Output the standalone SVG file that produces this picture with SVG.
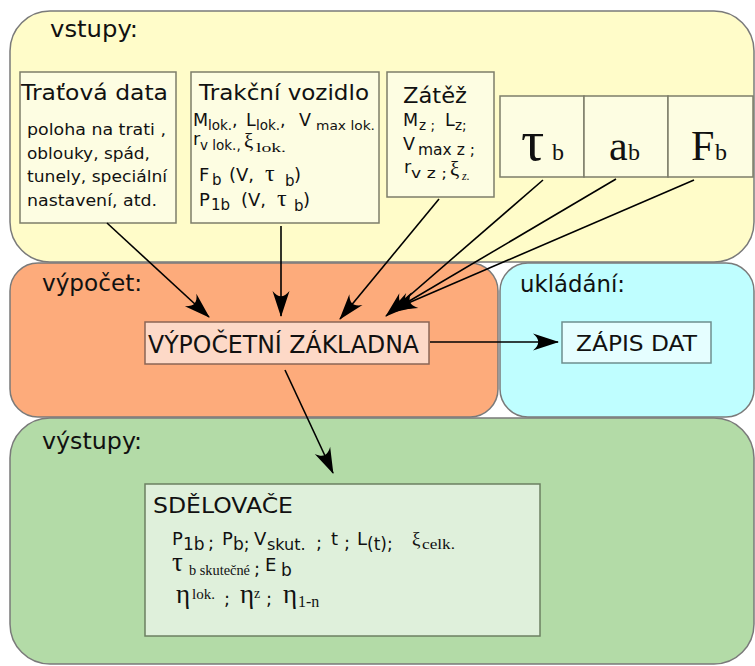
<svg xmlns="http://www.w3.org/2000/svg" width="755" height="666" viewBox="0 0 755 666">
<style>
.region{stroke:#7a7a7a;stroke-width:1.5}
.box{stroke-width:1.5}
.sans{font-family:"DejaVu Sans",Verdana,sans-serif;fill:#111}
.cond{font-family:"DejaVu Sans Condensed","DejaVu Sans",sans-serif;font-stretch:condensed;fill:#111}
.serif{font-family:"Liberation Serif","Times New Roman",serif;fill:#111}
.conn{stroke:#000;stroke-width:1.6;fill:none;marker-end:url(#ah)}
</style>
<defs>
<marker id="ah" viewBox="-28 -10 30 20" refX="0" refY="0" markerWidth="30" markerHeight="20" orient="auto" markerUnits="userSpaceOnUse">
<path d="M1,0 L-25,-8.5 C-18,-2.5 -18,2.5 -25,8.5 Z" fill="#000"/>
</marker>
</defs>
<rect width="755" height="666" fill="#fff"/>

<g id="vstupy">
<rect class="region" x="10" y="11" width="744" height="251" rx="40" ry="40" fill="#fffcc9"/>
<text class="cond" x="50" y="37" font-size="23" textLength="88" lengthAdjust="spacingAndGlyphs">vstupy:</text>
</g>
<g id="vypocet">
<rect class="region" x="10" y="263" width="488" height="154" rx="28" ry="28" fill="#fdab7b"/>
<text class="cond" x="42" y="291" font-size="23" textLength="100" lengthAdjust="spacingAndGlyphs">výpočet:</text>
</g>
<g id="ukladani">
<rect class="region" x="500" y="263" width="254" height="154" rx="28" ry="28" fill="#bffeff"/>
<text class="cond" x="520" y="292" font-size="23" textLength="105" lengthAdjust="spacingAndGlyphs">ukládání:</text>
</g>
<g id="vystupy">
<rect class="region" x="10" y="418" width="744" height="246" rx="40" ry="40" fill="#b3dba7"/>
<text class="cond" x="42" y="449" font-size="23" textLength="100" lengthAdjust="spacingAndGlyphs">výstupy:</text>
</g>

<g id="tratova-data">
<rect class="box" x="20" y="72" width="156" height="151" fill="#fdfde2" stroke="#7d7d6a"/>
<text class="sans" x="21" y="100" font-size="21" textLength="147" lengthAdjust="spacingAndGlyphs">Traťová data</text>
<text class="sans" x="27" y="135" font-size="16.5" textLength="139" lengthAdjust="spacingAndGlyphs">poloha na trati ,</text>
<text class="sans" x="27" y="158.5" font-size="16.5" textLength="123" lengthAdjust="spacingAndGlyphs">oblouky, spád,</text>
<text class="sans" x="27" y="182" font-size="16.5" textLength="140" lengthAdjust="spacingAndGlyphs">tunely, speciální</text>
<text class="sans" x="27" y="205.5" font-size="16.5" textLength="130" lengthAdjust="spacingAndGlyphs">nastavení, atd.</text>
</g>

<g id="trakcni-vozidlo">
<rect class="box" x="191" y="72" width="188" height="151" fill="#fdfde2" stroke="#7d7d6a"/>
<text class="sans" x="199" y="100" font-size="21" textLength="170" lengthAdjust="spacingAndGlyphs">Trakční vozidlo</text>
<text class="sans" font-size="17.5"><tspan x="193" y="126">M</tspan><tspan x="208" y="130" font-size="13.5">lok.</tspan><tspan x="232" y="126">,</tspan><tspan x="246" y="126">L</tspan><tspan x="256" y="130" font-size="13.5">lok.</tspan><tspan x="280" y="126">,</tspan><tspan x="299" y="126">V</tspan><tspan x="316" y="130" font-size="12" textLength="59" lengthAdjust="spacingAndGlyphs">max lok.</tspan></text>
<text class="sans" font-size="17.5"><tspan x="193" y="145">r</tspan><tspan x="200" y="150" font-size="13.5">v lok.,</tspan></text>
<text class="serif" x="244" y="148" font-size="21">ξ</text>
<text class="serif" x="256" y="152" font-size="12" textLength="30" lengthAdjust="spacingAndGlyphs">lok.</text>
<text class="sans" font-size="18"><tspan x="199" y="181">F</tspan><tspan x="212" y="185" font-size="15">b</tspan><tspan x="229" y="181">(V,</tspan></text>
<text class="serif" x="265" y="181" font-size="24">τ</text>
<text class="sans" font-size="18"><tspan x="285" y="186" font-size="15">b</tspan><tspan x="294" y="181">)</tspan></text>
<text class="sans" font-size="18"><tspan x="199" y="206">P</tspan><tspan x="211" y="210" font-size="15">1b</tspan><tspan x="241" y="206">(V,</tspan></text>
<text class="serif" x="277" y="206" font-size="24">τ</text>
<text class="sans" font-size="18"><tspan x="294" y="211" font-size="15">b</tspan><tspan x="303" y="206">)</tspan></text>
</g>

<g id="zatez">
<rect class="box" x="387" y="72" width="107" height="125" fill="#fdfde2" stroke="#7d7d6a"/>
<text class="sans" x="403" y="103" font-size="21" textLength="64" lengthAdjust="spacingAndGlyphs">Zátěž</text>
<text class="sans" font-size="17.5"><tspan x="403" y="126">M</tspan><tspan x="419" y="130" font-size="13.5">z ;</tspan><tspan x="445" y="126">L</tspan><tspan x="455" y="130" font-size="13.5">z;</tspan></text>
<text class="sans" font-size="17.5"><tspan x="403" y="150">V</tspan><tspan x="418" y="155" font-size="15" textLength="57" lengthAdjust="spacingAndGlyphs">max z ;</tspan></text>
<text class="sans" font-size="17.5"><tspan x="404" y="173">r</tspan><tspan x="411" y="178" font-size="13.5" textLength="36" lengthAdjust="spacingAndGlyphs">v z ;</tspan></text>
<text class="serif" x="450" y="176" font-size="21">ξ</text>
<text class="serif" x="462" y="180" font-size="12" font-style="italic">z.</text>
</g>

<g id="tau-b">
<rect class="box" x="500" y="96" width="84" height="81" fill="#fdfde2" stroke="#7d7d6a"/>
<text class="serif" x="521" y="160" font-size="58">τ</text>
<text class="serif" x="552" y="160" font-size="24">b</text>
</g>
<g id="a-b">
<rect class="box" x="584" y="96" width="84" height="81" fill="#fdfde2" stroke="#7d7d6a"/>
<text class="serif" x="609" y="160" font-size="42">a</text>
<text class="serif" x="628" y="160" font-size="24">b</text>
</g>
<g id="f-b">
<rect class="box" x="668" y="96" width="85" height="81" fill="#fdfde2" stroke="#7d7d6a"/>
<text class="serif" x="691" y="160" font-size="42">F</text>
<text class="serif" x="715" y="160" font-size="24">b</text>
</g>

<g id="vypocetni-zakladna">
<rect class="box" x="145" y="322" width="284" height="42" fill="#fdd9c7" stroke="#8a6656"/>
<text class="cond" x="148" y="353" font-size="24" textLength="271" lengthAdjust="spacingAndGlyphs">VÝPOČETNÍ ZÁKLADNA</text>
</g>

<g id="zapis-dat">
<rect class="box" x="562" y="322" width="149" height="41" fill="#e5feff" stroke="#6e8e8e"/>
<text class="sans" x="576" y="351" font-size="22" textLength="121" lengthAdjust="spacingAndGlyphs">ZÁPIS DAT</text>
</g>

<g id="sdelovace">
<rect class="box" x="145" y="484" width="395" height="152" fill="#dff0db" stroke="#6c8062"/>
<text class="sans" x="153" y="513" font-size="21" textLength="140" lengthAdjust="spacingAndGlyphs">SDĚLOVAČE</text>
<text class="sans" font-size="18"><tspan x="172" y="545">P</tspan><tspan x="183" y="550" font-size="17">1b</tspan><tspan x="208" y="549">;</tspan><tspan x="222" y="545">P</tspan><tspan x="233" y="550" font-size="17">b;</tspan><tspan x="254" y="545">V</tspan><tspan x="267" y="550" font-size="16">skut.</tspan><tspan x="316" y="549">;</tspan><tspan x="331" y="545">t</tspan><tspan x="344" y="549">;</tspan><tspan x="357" y="545">L</tspan><tspan x="367" y="550" font-size="17">(t);</tspan></text>
<text class="serif" x="412" y="545" font-size="19">ξ</text>
<text class="serif" x="422" y="549" font-size="14" textLength="33" lengthAdjust="spacingAndGlyphs">celk.</text>
<text class="serif" x="172" y="571" font-size="27">τ</text>
<text class="serif" x="189" y="575" font-size="14" textLength="61" lengthAdjust="spacingAndGlyphs">b skutečné</text>
<text class="sans" font-size="18"><tspan x="254" y="575">;</tspan><tspan x="265" y="571">E</tspan><tspan x="281" y="576" font-size="17">b</tspan></text>
<text class="serif" font-size="27"><tspan x="176" y="603">η</tspan><tspan x="192" y="599" font-size="14" textLength="23" lengthAdjust="spacingAndGlyphs">lok.</tspan><tspan x="240" y="603">η</tspan><tspan x="254" y="598" font-size="14">z</tspan><tspan x="283" y="603">η</tspan><tspan x="298" y="607" font-size="16">1-n</tspan></text>
<text class="sans" font-size="18"><tspan x="224" y="605">;</tspan><tspan x="266" y="605">;</tspan></text>
</g>

<g id="connectors">
<line class="conn" x1="107" y1="223" x2="209" y2="317"/>
<line class="conn" x1="281" y1="226" x2="281" y2="316"/>
<line class="conn" x1="439" y1="199" x2="340" y2="319"/>
<line class="conn" x1="543" y1="180" x2="386" y2="316"/>
<line class="conn" x1="616" y1="179" x2="389" y2="313"/>
<line class="conn" x1="694" y1="180" x2="392" y2="310"/>
<line class="conn" x1="430" y1="342" x2="558" y2="342"/>
<line class="conn" x1="285" y1="370" x2="333" y2="473"/>
</g>
</svg>
